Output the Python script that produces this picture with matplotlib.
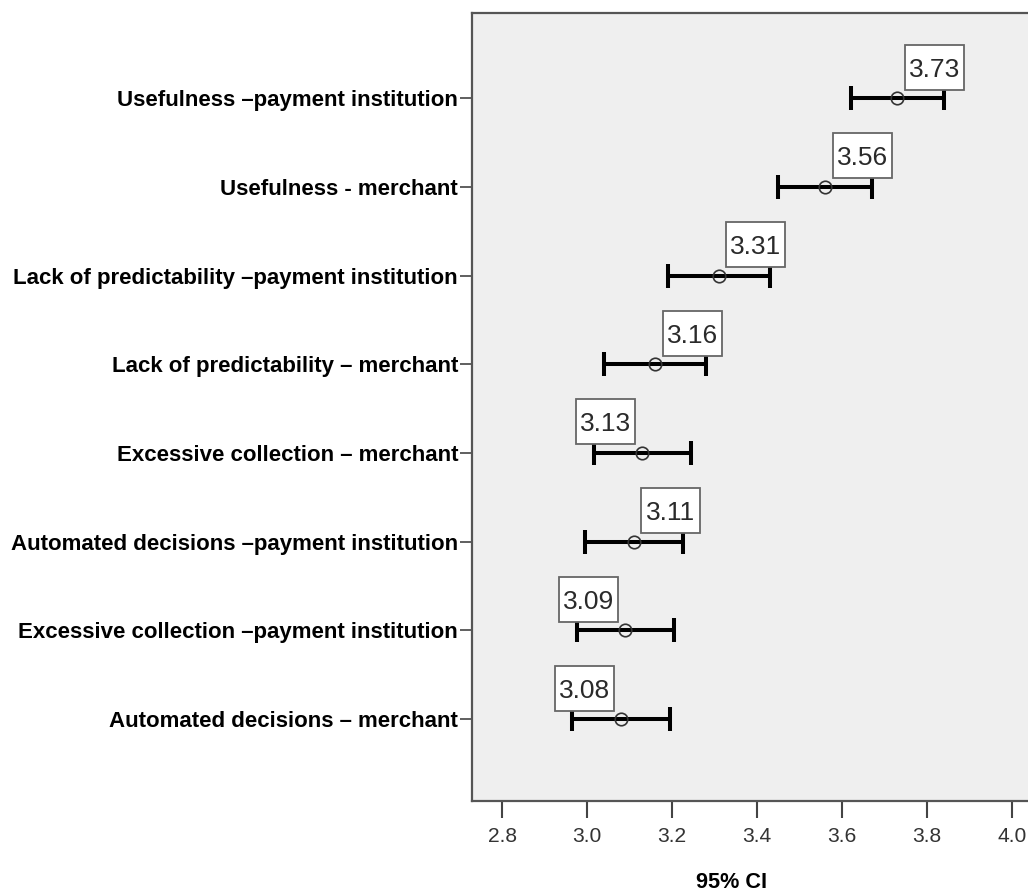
import matplotlib
matplotlib.use('Agg')
import matplotlib.pyplot as plt
from matplotlib import font_manager
from matplotlib.patches import Rectangle
from matplotlib.transforms import IdentityTransform

items = [
    'Usefulness \u2013payment institution',
    'Usefulness - merchant',
    'Lack of predictability \u2013payment institution',
    'Lack of predictability \u2013 merchant',
    'Excessive collection \u2013 merchant',
    'Automated decisions \u2013payment institution',
    'Excessive collection \u2013payment institution',
    'Automated decisions \u2013 merchant',
]
means = [3.73, 3.56, 3.31, 3.16, 3.13, 3.11, 3.09, 3.08]
ci_low = [3.62, 3.45, 3.19, 3.04, 3.015, 2.995, 2.975, 2.965]
ci_high = [3.84, 3.67, 3.43, 3.28, 3.245, 3.225, 3.205, 3.195]
xticks = [2.8, 3.0, 3.2, 3.4, 3.6, 3.8, 4.0]

# which side of the point the value box goes (+1 right, -1 left)
box_side = [1, 1, 1, 1, -1, 1, -1, -1]

# condensed Arial-like face if available, otherwise shrink the regular one
installed = {f.name for f in font_manager.fontManager.ttflist}
if 'Liberation Sans Narrow' in installed:
    fam, k = 'Liberation Sans Narrow', 1.0
else:
    fam, k = 'Liberation Sans', 0.82
plt.rcParams['font.family'] = [fam, 'DejaVu Sans']

W, H = 1028, 894
fig = plt.figure(figsize=(W / 100, H / 100), dpi=100)
left, right, top, bottom = 472, 1045, 13, 800.7
ax = fig.add_axes([left / W, 1 - bottom / H, (right - left) / W, (bottom - top) / H])
ax.set_facecolor('#efefef')

ax.set_xlim(2.729, 2.729 + (right - left) / 425)
ax.set_ylim(7.92, -0.96)

ypos = list(range(len(items)))
err = [[m - lo for m, lo in zip(means, ci_low)],
       [hi - m for m, hi in zip(means, ci_high)]]
ax.errorbar(means, ypos, xerr=err, fmt='none', ecolor='black',
            elinewidth=2.9, capsize=8.3, capthick=2.9, zorder=2)
ax.plot(means, ypos, 'o', mfc='none', mec='#333333', ms=9, mew=1.2, zorder=3)

# value boxes, sized in pixels next to each point
bw, bh = 59, 45
for m, yy, s in zip(means, ypos, box_side):
    px, py = ax.transData.transform((m, yy))
    cx, cy = px + 37 * s, py + 31
    fig.add_artist(Rectangle((cx - bw / 2, cy - bh / 2), bw, bh,
                             transform=IdentityTransform(), fc='white',
                             ec='#666666', lw=1.3, zorder=4))
    fig.text(cx, cy - 9.5, f'{m:.2f}', transform=IdentityTransform(),
             ha='center', va='baseline', fontsize=19, color='#2a2a2a',
             family='Liberation Sans', zorder=5)

ax.set_xticks(xticks)
ax.set_xticklabels([f'{t:.1f}' for t in xticks])
ax.set_yticks(ypos)
ax.set_yticklabels(items, fontweight='bold', fontsize=19.5 * k)

ax.tick_params(axis='x', length=12, width=1.5, color='#444444',
               labelsize=18.5 * k, labelcolor='#333333', pad=7)
ax.tick_params(axis='y', length=9, width=1.2, color='#444444', pad=1)

for sp in ['left', 'top', 'bottom']:
    ax.spines[sp].set_color('#555555')
    ax.spines[sp].set_linewidth(1.6)
ax.spines['right'].set_visible(False)

ax.set_xlabel('95% CI', fontweight='bold', fontsize=19 * k)
ax.xaxis.set_label_coords((732 - left) / (right - left), -(883 - bottom) / (bottom - top))
ax.xaxis.label.set_va('center')

fig.savefig('out.png', dpi=100)
